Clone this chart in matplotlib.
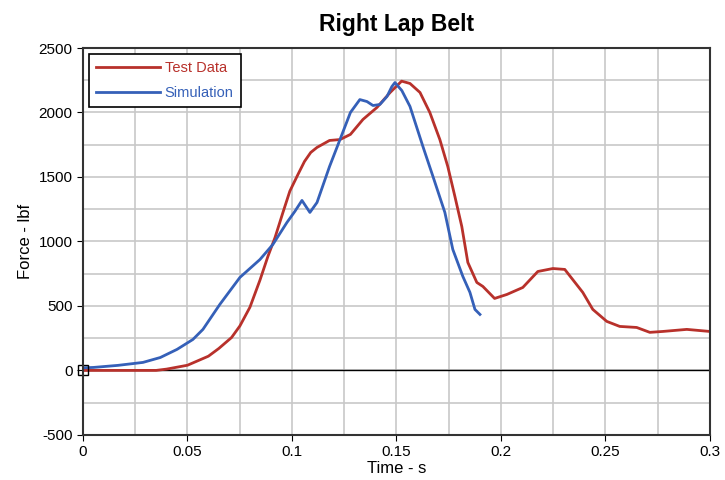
import matplotlib.pyplot as plt
import numpy as np

plt.rcParams['font.family'] = ['Liberation Sans', 'DejaVu Sans']
plt.rcParams['axes.unicode_minus'] = False

# Test data (red)
test_t = [0.0, 0.02, 0.035, 0.04, 0.05, 0.06, 0.065, 0.0711, 0.0751, 0.0799, 0.0847, 0.0885,
          0.0919, 0.0957, 0.099, 0.1029, 0.106, 0.109, 0.112, 0.118, 0.123, 0.128, 0.134,
          0.1407, 0.147, 0.1525, 0.1565, 0.1613, 0.166, 0.1708, 0.1746, 0.178, 0.1813,
          0.1842, 0.1885, 0.1914, 0.197, 0.2029, 0.2105, 0.2177, 0.2249, 0.2306, 0.2392,
          0.244, 0.2507, 0.2569, 0.265, 0.2713, 0.2775, 0.289, 0.3]
test_f = [0, 0, 0, 10, 40, 110, 170, 255, 345, 490, 700, 884,
          1030, 1225, 1390, 1520, 1620, 1690, 1729, 1783, 1790, 1830, 1946,
          2039, 2155, 2243, 2225, 2155, 2000, 1790, 1581, 1349, 1116,
          837, 682, 651, 558, 589, 643, 767, 790, 783, 605,
          473, 380, 341, 333, 295, 302, 318, 302]

# Simulation (blue)
sim_t = [0.0, 0.005, 0.0167, 0.0287, 0.037, 0.045, 0.0526, 0.0574, 0.0655, 0.0751,
         0.0847, 0.0909, 0.0976, 0.1014, 0.1048, 0.1086, 0.112, 0.118, 0.123, 0.128,
         0.1325, 0.1359, 0.1388, 0.1421, 0.1455, 0.1478, 0.1493, 0.1526, 0.1565, 0.1627,
         0.1675, 0.1732, 0.177, 0.1818, 0.1852, 0.1876, 0.19]
sim_f = [20, 23, 39, 62, 100, 163, 240, 318, 512, 721,
         860, 977, 1147, 1233, 1318, 1225, 1302, 1581, 1790, 2000,
         2100, 2085, 2054, 2062, 2124, 2200, 2232, 2170, 2047, 1736,
         1504, 1225, 938, 729, 605, 473, 434]

fig = plt.figure(figsize=(7.25, 4.8), dpi=100)
ax = fig.add_axes([0.1145, 0.094, 0.8645, 0.806])

ax.plot(test_t, test_f, color='#b8312b', lw=2, label='Test Data')
ax.plot(sim_t, sim_f, color='#3560b8', lw=2, label='Simulation')
ax.axhline(0, color='black', lw=1, zorder=1)
ax.plot([0], [0], marker='s', ms=7, mfc='none', mec='black', mew=1, clip_on=False)

ax.set_xlim(0, 0.3)
ax.set_ylim(-500, 2500)
ax.set_xticks(np.arange(0, 0.301, 0.05))
ax.set_xticklabels(['0', '0.05', '0.1', '0.15', '0.2', '0.25', '0.3'])
ax.set_xticks(np.arange(0, 0.301, 0.025), minor=True)
ax.set_yticks(np.arange(-500, 2501, 500))
ax.set_yticks(np.arange(-500, 2501, 250), minor=True)
ax.grid(True, which='both', color='#c8c8c8', lw=1.2)
ax.set_axisbelow(True)
ax.tick_params(which='minor', length=0)
ax.tick_params(which='major', length=4, labelsize=11, direction='out')

for s in ax.spines.values():
    s.set_color('#333333')
    s.set_linewidth(1.5)

ax.set_xlabel('Time - s', fontsize=12, labelpad=1)
ax.set_ylabel('Force - lbf', fontsize=12)
ax.set_title('Right Lap Belt', fontsize=16.5, fontweight='bold', pad=12)

leg = ax.legend(loc='upper left', fancybox=False, edgecolor='black', fontsize=10.5,
                handlelength=4.4, handletextpad=0.3, labelspacing=0.75,
                borderaxespad=0.4, borderpad=0.5, framealpha=1)
leg.get_frame().set_linewidth(1.2)
for txt, ln in zip(leg.get_texts(), leg.get_lines()):
    txt.set_color(ln.get_color())

fig.savefig('out.png', dpi=100)
